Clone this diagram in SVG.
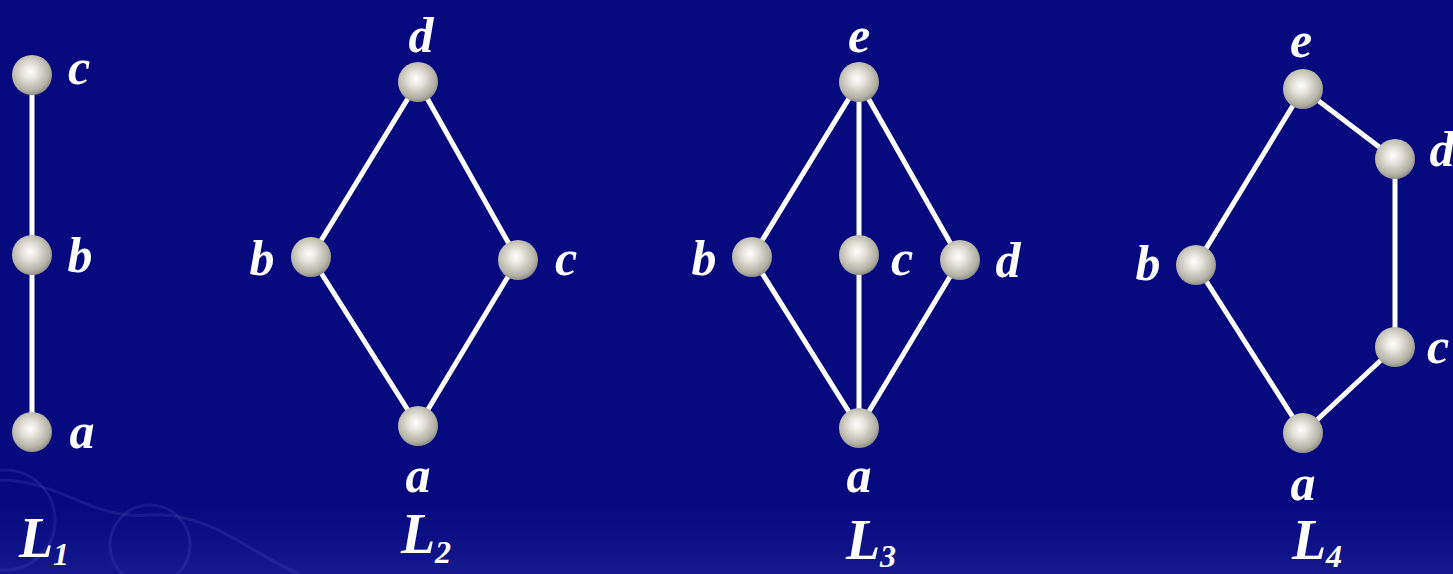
<svg xmlns="http://www.w3.org/2000/svg" width="1453" height="574" viewBox="0 0 1453 574">
<defs>
<radialGradient id="ball" cx="0.45" cy="0.42" r="0.6">
<stop offset="0" stop-color="#ffffff"/>
<stop offset="0.3" stop-color="#e8e6df"/>
<stop offset="0.8" stop-color="#b3b0a4"/>
<stop offset="1" stop-color="#8d8a84"/>
</radialGradient>
<linearGradient id="bottom" x1="0" y1="0" x2="0" y2="1">
<stop offset="0" stop-color="#2a3aa8" stop-opacity="0"/>
<stop offset="1" stop-color="#3a4ab0" stop-opacity="0.25"/>
</linearGradient>
</defs>
<style>
.bg{fill:#07097f}
.e{stroke:#ffffff;stroke-width:5;fill:none;stroke-linecap:round}
.n{fill:url(#ball)}
.t{font-family:"Liberation Serif","Times New Roman",serif;font-style:italic;font-weight:bold;font-size:50px;fill:#ffffff;text-anchor:middle}
.L{font-size:56px}
.s{font-size:32px}
.deco{fill:none;stroke:#5a6cc8;stroke-opacity:0.18;stroke-width:3}
</style>
<rect class="bg" x="0" y="0" width="1453" height="574"/>
<rect x="0" y="500" width="1453" height="74" fill="url(#bottom)"/>
<g id="decoration">
<circle class="deco" cx="5" cy="520" r="50"/>
<circle class="deco" cx="150" cy="545" r="40"/>
<path class="deco" d="M0,480 C60,480 90,520 150,515 S260,560 300,574"/>
</g>
<g id="connectors">
<line class="e" x1="32" y1="75" x2="32" y2="255"/>
<line class="e" x1="32" y1="255" x2="32" y2="432"/>
<line class="e" x1="418" y1="82" x2="311" y2="257"/>
<line class="e" x1="418" y1="82" x2="518" y2="260"/>
<line class="e" x1="311" y1="257" x2="418" y2="426"/>
<line class="e" x1="518" y1="260" x2="418" y2="426"/>
<line class="e" x1="859" y1="82" x2="752" y2="257"/>
<line class="e" x1="859" y1="82" x2="859" y2="428"/>
<line class="e" x1="859" y1="82" x2="960" y2="260"/>
<line class="e" x1="752" y1="257" x2="859" y2="428"/>
<line class="e" x1="960" y1="260" x2="859" y2="428"/>
<line class="e" x1="1303" y1="89" x2="1395" y2="159"/>
<line class="e" x1="1303" y1="89" x2="1196" y2="265"/>
<line class="e" x1="1395" y1="159" x2="1395" y2="347"/>
<line class="e" x1="1196" y1="265" x2="1303" y2="433"/>
<line class="e" x1="1395" y1="347" x2="1303" y2="433"/>
</g>
<g id="L1">
<g id="L1-c"><circle class="n" cx="32" cy="75" r="20"/><text class="t" x="79" y="84">c</text></g>
<g id="L1-b"><circle class="n" cx="32" cy="255" r="20"/><text class="t" x="80" y="272">b</text></g>
<g id="L1-a"><circle class="n" cx="32" cy="432" r="20"/><text class="t" x="82" y="448">a</text></g>
<text class="t L" x="44" y="557">L<tspan class="s" dy="8">1</tspan></text>
</g>
<g id="L2">
<g id="L2-d"><circle class="n" cx="418" cy="82" r="20"/><text class="t" x="421" y="52">d</text></g>
<g id="L2-b"><circle class="n" cx="311" cy="257" r="20"/><text class="t" x="262" y="275">b</text></g>
<g id="L2-c"><circle class="n" cx="518" cy="260" r="20"/><text class="t" x="566" y="275">c</text></g>
<g id="L2-a"><circle class="n" cx="418" cy="426" r="20"/><text class="t" x="418" y="492">a</text></g>
<text class="t L" x="426" y="553">L<tspan class="s" dy="10">2</tspan></text>
</g>
<g id="L3">
<g id="L3-e"><circle class="n" cx="859" cy="82" r="20"/><text class="t" x="859" y="52">e</text></g>
<g id="L3-b"><circle class="n" cx="752" cy="257" r="20"/><text class="t" x="704" y="275">b</text></g>
<g id="L3-c"><circle class="n" cx="859" cy="255" r="20"/><text class="t" x="902" y="275">c</text></g>
<g id="L3-d"><circle class="n" cx="960" cy="260" r="20"/><text class="t" x="1008" y="277">d</text></g>
<g id="L3-a"><circle class="n" cx="859" cy="428" r="20"/><text class="t" x="859" y="492">a</text></g>
<text class="t L" x="871" y="559">L<tspan class="s" dy="8">3</tspan></text>
</g>
<g id="L4">
<g id="L4-e"><circle class="n" cx="1303" cy="89" r="20"/><text class="t" x="1301" y="57">e</text></g>
<g id="L4-d"><circle class="n" cx="1395" cy="159" r="20"/><text class="t" x="1442" y="166">d</text></g>
<g id="L4-b"><circle class="n" cx="1196" cy="265" r="20"/><text class="t" x="1148" y="280">b</text></g>
<g id="L4-c"><circle class="n" cx="1395" cy="347" r="20"/><text class="t" x="1438" y="363">c</text></g>
<g id="L4-a"><circle class="n" cx="1303" cy="433" r="20"/><text class="t" x="1303" y="500">a</text></g>
<text class="t L" x="1317" y="559">L<tspan class="s" dy="8">4</tspan></text>
</g>
</svg>
